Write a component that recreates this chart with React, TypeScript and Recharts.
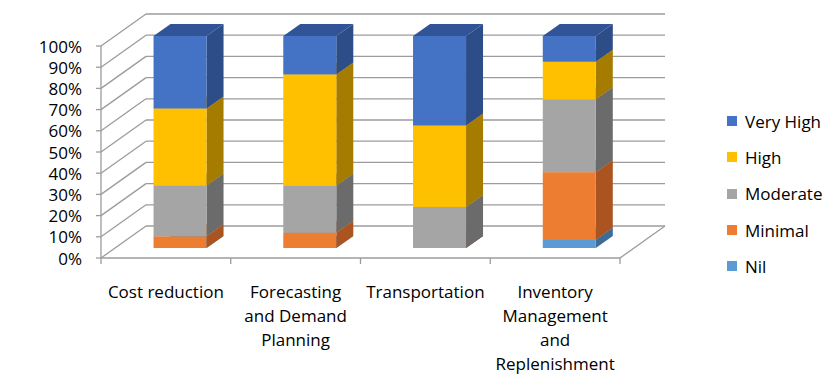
import React from 'react';
import { Bar, BarChart, CartesianGrid, Legend, XAxis, YAxis } from 'recharts';

// Ratings per area (percent of responses), stacked to 100%.
const categories = [
  'Cost reduction',
  'Forecasting and Demand Planning',
  'Transportation',
  'Inventory Management and Replenishment',
];
const categoryLines = [
  ['Cost reduction'],
  ['Forecasting', 'and Demand', 'Planning'],
  ['Transportation'],
  ['Inventory', 'Management', 'and', 'Replenishment'],
];
const nil = [0, 0, 0, 3.9];
const minimal = [5.5, 7.2, 0, 31.9];
const moderate = [24, 22.2, 19.4, 34.4];
const high = [36.3, 52.4, 38.5, 17.8];
const veryHigh = [34.2, 18.1, 42.3, 12.1];
const yTicks = [0, 0.1, 0.2, 0.3, 0.4, 0.5, 0.6, 0.7, 0.8, 0.9, 1];

const FONT = '"Open Sans", sans-serif';
const GRID = '#9c9c9c';

// plot plane = front faces of the columns; walls/floor are offset obliquely from it
const PLOT = { left: 115, right: 634, top: 36, bottom: 248 };
const FRONT = { dx: -14, dy: 10 };
const BACK = { dx: 31, dy: -22 };
const DEPTH = { dx: 17, dy: -12 };

const series = [
  { key: 'Nil', values: nil, front: '#5B9BD5', side: '#3D6C98', top: '#4A82B8' },
  { key: 'Minimal', values: minimal, front: '#ED7D31', side: '#AC5420', top: '#C9682A' },
  { key: 'Moderate', values: moderate, front: '#A5A5A5', side: '#6B6B6B', top: '#858585' },
  { key: 'High', values: high, front: '#FFC000', side: '#A67C00', top: '#CC9A00' },
  { key: 'Very High', values: veryHigh, front: '#4472C4', side: '#2C4D88', top: '#305496' },
];

const data = categories.map((name, i) => {
  const row: Record<string, string | number> = { name };
  series.forEach((s) => {
    row[s.key] = s.values[i];
  });
  return row;
});

function Box3D(props: any) {
  const { x, y, width, height, colors } = props;
  if (x == null || y == null || !width) return null;
  const h = Math.max(0, height);
  const { dx, dy } = DEPTH;
  return (
    <g>
      <polygon
        points={`${x + width},${y + h} ${x + width + dx},${y + h + dy} ${x + width + dx},${y + dy} ${x + width},${y}`}
        fill={colors.side}
      />
      <polygon
        points={`${x},${y} ${x + dx},${y + dy} ${x + width + dx},${y + dy} ${x + width},${y}`}
        fill={colors.top}
      />
      <rect x={x} y={y} width={width} height={h} fill={colors.front} />
    </g>
  );
}

// back wall line + left wall diagonal for each gridline; floor and front axis at the ends
function WallLine(props: any) {
  const { x1, x2, y1, index } = props;
  const y = y1;
  const isBottom = Math.abs(y - PLOT.bottom) < 1;
  const isTop = Math.abs(y - PLOT.top) < 1;
  return (
    <g key={`wall-${index}`} stroke={GRID} strokeWidth={1.3} fill="none">
      <line x1={x1 + BACK.dx} y1={y + BACK.dy} x2={x2 + BACK.dx} y2={y + BACK.dy} />
      <line x1={x1 + FRONT.dx} y1={y + FRONT.dy} x2={x1 + BACK.dx} y2={y + BACK.dy} />
      <line x1={x1 + FRONT.dx - 5} y1={y + FRONT.dy} x2={x1 + FRONT.dx} y2={y + FRONT.dy} />
      {isBottom && (
        <>
          <line x1={x1 + FRONT.dx} y1={y + FRONT.dy} x2={x2 + FRONT.dx} y2={y + FRONT.dy} />
          <line x1={x2 + FRONT.dx} y1={y + FRONT.dy} x2={x2 + BACK.dx} y2={y + BACK.dy} />
        </>
      )}
      {isTop && (
        <line
          x1={x1 + FRONT.dx}
          y1={y + FRONT.dy}
          x2={x1 + FRONT.dx}
          y2={PLOT.bottom + FRONT.dy}
        />
      )}
    </g>
  );
}

function YTick(props: any) {
  const { y, payload } = props;
  return (
    <text
      x={PLOT.left + FRONT.dx - 19}
      y={y + FRONT.dy}
      textAnchor="end"
      dominantBaseline="central"
      fontFamily={FONT}
      fontSize={17}
      fill="#000"
    >
      {`${Math.round(payload.value * 100)}%`}
    </text>
  );
}

function XTick(props: any) {
  const { x, index } = props;
  const band = (PLOT.right - PLOT.left) / categories.length;
  const cx = x + FRONT.dx;
  const floorY = PLOT.bottom + FRONT.dy;
  const lines = categoryLines[index] || [categories[index]];
  return (
    <g>
      <line x1={cx - band / 2} y1={floorY} x2={cx - band / 2} y2={floorY + 6} stroke={GRID} strokeWidth={1.3} />
      {index === categories.length - 1 && (
        <line x1={cx + band / 2} y1={floorY} x2={cx + band / 2} y2={floorY + 6} stroke={GRID} strokeWidth={1.3} />
      )}
      <text x={cx} y={297.5} textAnchor="middle" fontFamily={FONT} fontSize={17} fill="#000">
        {lines.map((line, i) => (
          <tspan key={i} x={cx} dy={i === 0 ? 0 : 24.3}>
            {line}
          </tspan>
        ))}
      </text>
    </g>
  );
}

function LegendList() {
  return (
    <div style={{ fontFamily: FONT, fontSize: 17, color: '#000' }}>
      {[...series].reverse().map((s) => (
        <div key={s.key} style={{ display: 'flex', alignItems: 'center', height: 36.3 }}>
          <span
            style={{ width: 10, height: 10, background: s.front, display: 'inline-block', marginRight: 8 }}
          />
          <span>{s.key}</span>
        </div>
      ))}
    </div>
  );
}

export default function App() {
  return (
    <div style={{ position: 'absolute', left: 0, top: 0, width: 836, height: 380, background: '#fff' }}>
      <BarChart
        width={836}
        height={380}
        data={data}
        stackOffset="expand"
        barCategoryGap="29.7%"
        margin={{ top: PLOT.top, right: 836 - PLOT.right, bottom: 0, left: 0 }}
      >
        <CartesianGrid horizontal={WallLine} vertical={false} />
        <XAxis
          dataKey="name"
          height={380 - PLOT.bottom}
          interval={0}
          axisLine={false}
          tickLine={false}
          tick={XTick}
        />
        <YAxis
          width={PLOT.left}
          domain={[0, 1]}
          ticks={yTicks}
          interval={0}
          axisLine={false}
          tickLine={false}
          tick={YTick}
        />
        <Legend
          layout="vertical"
          align="center"
          verticalAlign="middle"
          wrapperStyle={{ left: 727, top: 103, width: 110 }}
          content={() => <LegendList />}
        />
        {series.map((s) => (
          <Bar
            key={s.key}
            dataKey={s.key}
            name={s.key}
            stackId="a"
            fill={s.front}
            isAnimationActive={false}
            shape={(p: any) => <Box3D {...p} colors={s} />}
          />
        ))}
      </BarChart>
    </div>
  );
}
